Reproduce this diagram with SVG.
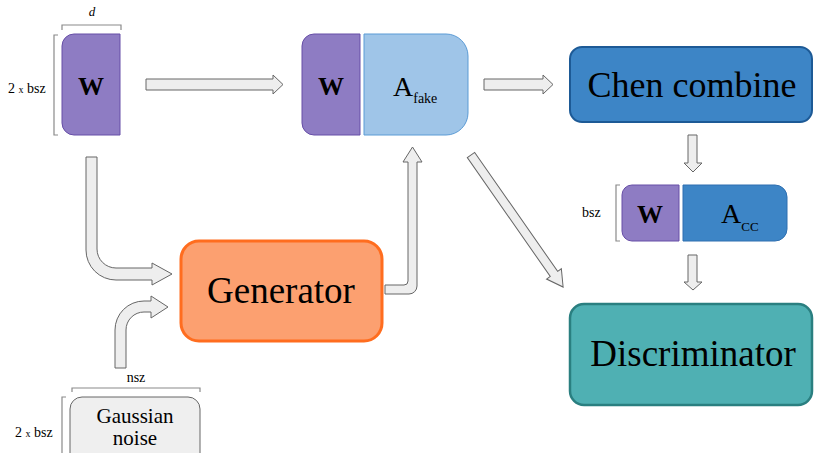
<svg xmlns="http://www.w3.org/2000/svg" width="814" height="453" viewBox="0 0 814 453" font-family="'Liberation Serif', 'Times New Roman', 'DejaVu Serif', serif">
<style>
text{font-family:'Liberation Serif','Times New Roman','DejaVu Serif',serif;fill:#000}
.big{font-size:37px;text-anchor:middle}
.w{font-size:26px;font-weight:bold;text-anchor:middle}
.lbl{font-size:14px}
.brk{fill:none;stroke:#8a8a8a;stroke-width:1.2}
.arr{fill:#eeeeee;stroke:#666666;stroke-width:1}
.purple{fill:#8e7cc3;stroke:#674ea7;stroke-width:1}
</style>
<rect width="814" height="453" fill="#ffffff"/>

<g id="connectors">
  <path class="arr" d="M146,79 H273 V75 L283,84.5 L273,94 V90 H146 Z"/>
  <path class="arr" d="M484,79 H543 V75 L553,84.5 L543,94 V90 H484 Z"/>
  <path class="arr" d="M688,135 V163 H684 L693,172 L702,163 H697 V135 Z"/>
  <path class="arr" d="M688,255 V282 H684 L693,290 L702,282 H697 V255 Z"/>
  <path class="arr" d="M385,285 H404 A4,4 0 0 0 408,281 V162 H403 L412.5,147 L422,162 H417 V286 A8,8 0 0 1 409,294 H385 Z"/>
  <path class="arr" transform="translate(471,155) rotate(55.1)" d="M0,-4.5 H145 V-9 L161,0 L145,9 V4.5 H0 Z"/>
  <path class="arr" d="M86,157 V250 A30,30 0 0 0 116,280 H152 V285 L172,274 L152,263 V268 H116 A19,19 0 0 1 97,249 V157 Z"/>
  <path class="arr" d="M115,368 V330 A29,29 0 0 1 144,301 H151 V296 L168,307 L151,318 V312 H144 A18,18 0 0 0 126,330 V368 Z"/>
</g>

<g id="w-input">
  <path class="brk" d="M62,30 V25 H121 V30"/>
  <text x="92" y="16" font-size="13" font-style="italic" text-anchor="middle">d</text>
  <path class="brk" d="M58,35 H54 V135 H58"/>
  <text class="lbl" x="8" y="93">2 <tspan font-size="10">x</tspan> bsz</text>
  <path class="purple" d="M74,34 H120 V135 H74 A12,12 0 0 1 62,123 V46 A12,12 0 0 1 74,34 Z"/>
  <text class="w" x="91" y="95">W</text>
</g>

<g id="w-afake">
  <path class="purple" d="M314,34 H360 V135 H314 A12,12 0 0 1 302,123 V46 A12,12 0 0 1 314,34 Z"/>
  <text class="w" x="331" y="95">W</text>
  <path d="M364,34 H446 A22,22 0 0 1 468,56 V113 A22,22 0 0 1 446,135 H364 Z" fill="#9fc5e8" stroke="#5b9bd5" stroke-width="1"/>
  <text x="393" y="96" font-size="28">A<tspan font-size="14" dy="7">fake</tspan></text>
</g>

<g id="chen-combine">
  <rect x="570" y="47" width="242" height="75" rx="12" fill="#3d85c6" stroke="#1d5a96" stroke-width="2"/>
  <text x="692" y="97" font-size="36" text-anchor="middle">Chen combine</text>
</g>

<g id="w-acc">
  <path class="brk" d="M620,185 H616 V241 H620"/>
  <text class="lbl" x="582" y="217">bsz</text>
  <path class="purple" d="M632,185 H679 V241 H632 A10,10 0 0 1 622,231 V195 A10,10 0 0 1 632,185 Z"/>
  <text class="w" x="650" y="223">W</text>
  <path d="M683,185 H775 A12,12 0 0 1 787,197 V229 A12,12 0 0 1 775,241 H683 Z" fill="#3d85c6" stroke="#2f6fb0" stroke-width="1"/>
  <text x="721" y="223" font-size="28">A<tspan font-size="13" dy="8">CC</tspan></text>
</g>

<g id="generator">
  <rect x="181" y="241" width="201" height="100" rx="18" fill="#fca070" stroke="#ff6d1f" stroke-width="3"/>
  <text class="big" x="281" y="303">Generator</text>
</g>

<g id="discriminator">
  <rect x="570" y="304" width="242" height="101" rx="14" fill="#4fb0b3" stroke="#2a7f80" stroke-width="2.5"/>
  <text class="big" x="693" y="366">Discriminator</text>
</g>

<g id="gaussian-noise">
  <path class="brk" d="M72,392 V388 H200 V392"/>
  <text class="lbl" x="136" y="382" text-anchor="middle">nsz</text>
  <path class="brk" d="M66,397 H62 V460"/>
  <text class="lbl" x="15" y="437">2 <tspan font-size="10">x</tspan> bsz</text>
  <rect x="70" y="397" width="130" height="70" rx="12" fill="#efefef" stroke="#666666" stroke-width="1"/>
  <text x="135" y="423" font-size="21" text-anchor="middle">Gaussian</text>
  <text x="135" y="445" font-size="21" text-anchor="middle">noise</text>
</g>
</svg>
